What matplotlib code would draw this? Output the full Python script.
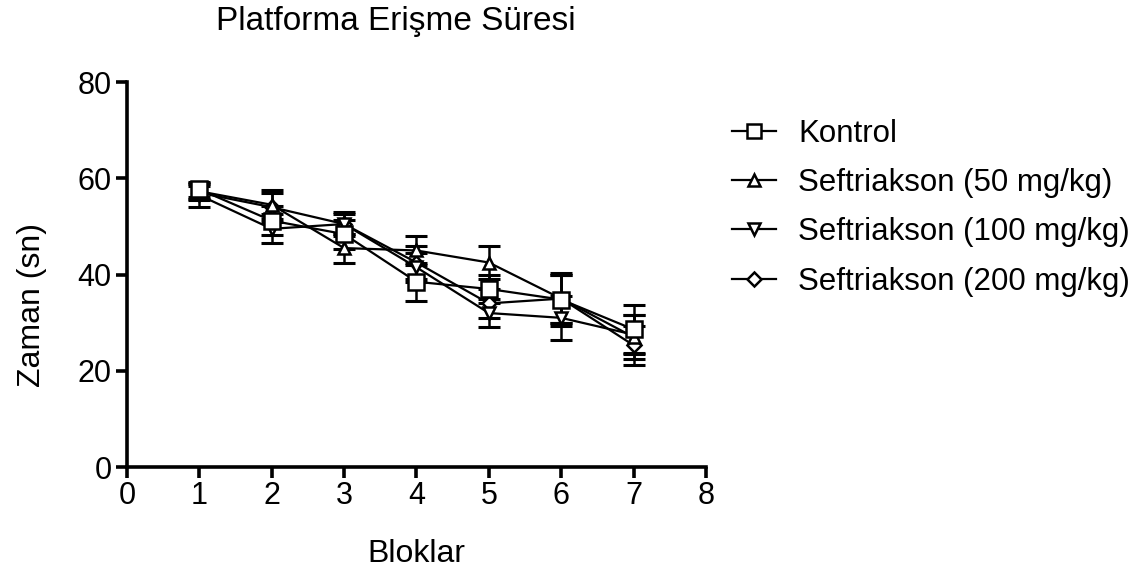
import matplotlib
matplotlib.use("Agg")
import matplotlib.pyplot as plt

plt.rcParams['font.family'] = ['Liberation Sans', 'DejaVu Sans']

blocks = [1, 2, 3, 4, 5, 6, 7]

kontrol = [57.7, 51.2, 48.4, 38.5, 37.0, 34.8, 28.6]
kontrol_err = [1.5, 3.0, 3.0, 4.0, 3.0, 5.5, 5.0]

seft50 = [57.3, 54.5, 45.5, 45.0, 42.5, 35.0, 27.0]
seft50_err = [1.5, 3.0, 3.0, 3.0, 3.5, 5.0, 4.5]

seft100 = [56.5, 49.5, 50.5, 41.5, 32.0, 31.0, 27.5]
seft100_err = [2.5, 3.0, 2.0, 3.0, 3.0, 4.6, 4.0]

seft200 = [57.0, 54.0, 50.5, 42.5, 34.0, 35.0, 25.3]
seft200_err = [1.5, 3.0, 2.5, 3.5, 3.0, 5.0, 4.0]

labels = ["Kontrol", "Seftriakson (50 mg/kg)",
          "Seftriakson (100 mg/kg)", "Seftriakson (200 mg/kg)"]
markers = ["s", "^", "v", "D"]
sizes = [11, 9, 9, 7.5]

fig = plt.figure(figsize=(11.46, 5.70), dpi=100)
ax = fig.add_axes([0.1108, 0.1807, 0.616 - 0.1108, 0.856 - 0.1807])

series = [(seft200, seft200_err), (seft100, seft100_err),
          (seft50, seft50_err), (kontrol, kontrol_err)]
order = [3, 2, 1, 0]
handles = {}
for (vals, errs), idx in zip(series, order):
    ax.errorbar(blocks, vals, yerr=errs, fmt="none", ecolor="black",
                elinewidth=1.8, capsize=8, capthick=2.2, zorder=2)
    ln, = ax.plot(blocks, vals, color="black", lw=1.6, marker=markers[idx],
                  ms=sizes[idx], mfc="white", mec="black", mew=1.8,
                  zorder=4 if idx == 0 else 3)
    handles[idx] = ln

ax.set_xlim(0, 8)
ax.set_ylim(0, 80)
ax.set_xticks(range(0, 9))
ax.set_yticks(range(0, 81, 20))
for side in ("top", "right"):
    ax.spines[side].set_visible(False)
for side in ("left", "bottom"):
    ax.spines[side].set_linewidth(2.6)
ax.tick_params(axis="both", which="major", direction="out", length=8,
               width=2.6, labelsize=22, pad=2)
ax.tick_params(axis="y", pad=3)

ax.set_xlabel("Bloklar", fontsize=23, labelpad=20)
ax.set_ylabel("Zaman (sn)", fontsize=23)
ax.yaxis.set_label_coords(-0.138, 0.42)
fig.text(0.3455, 0.962, "Platforma Erişme Süresi", fontsize=24,
         ha="center", va="center")

leg = ax.legend([handles[i] for i in range(4)], labels, loc="upper left",
                bbox_to_anchor=(1.008, 0.962), frameon=False, fontsize=22.5,
                handlelength=1.4, handletextpad=0.7, labelspacing=0.62,
                markerscale=0.9, borderpad=0.2)

fig.savefig("out.png", dpi=100)
